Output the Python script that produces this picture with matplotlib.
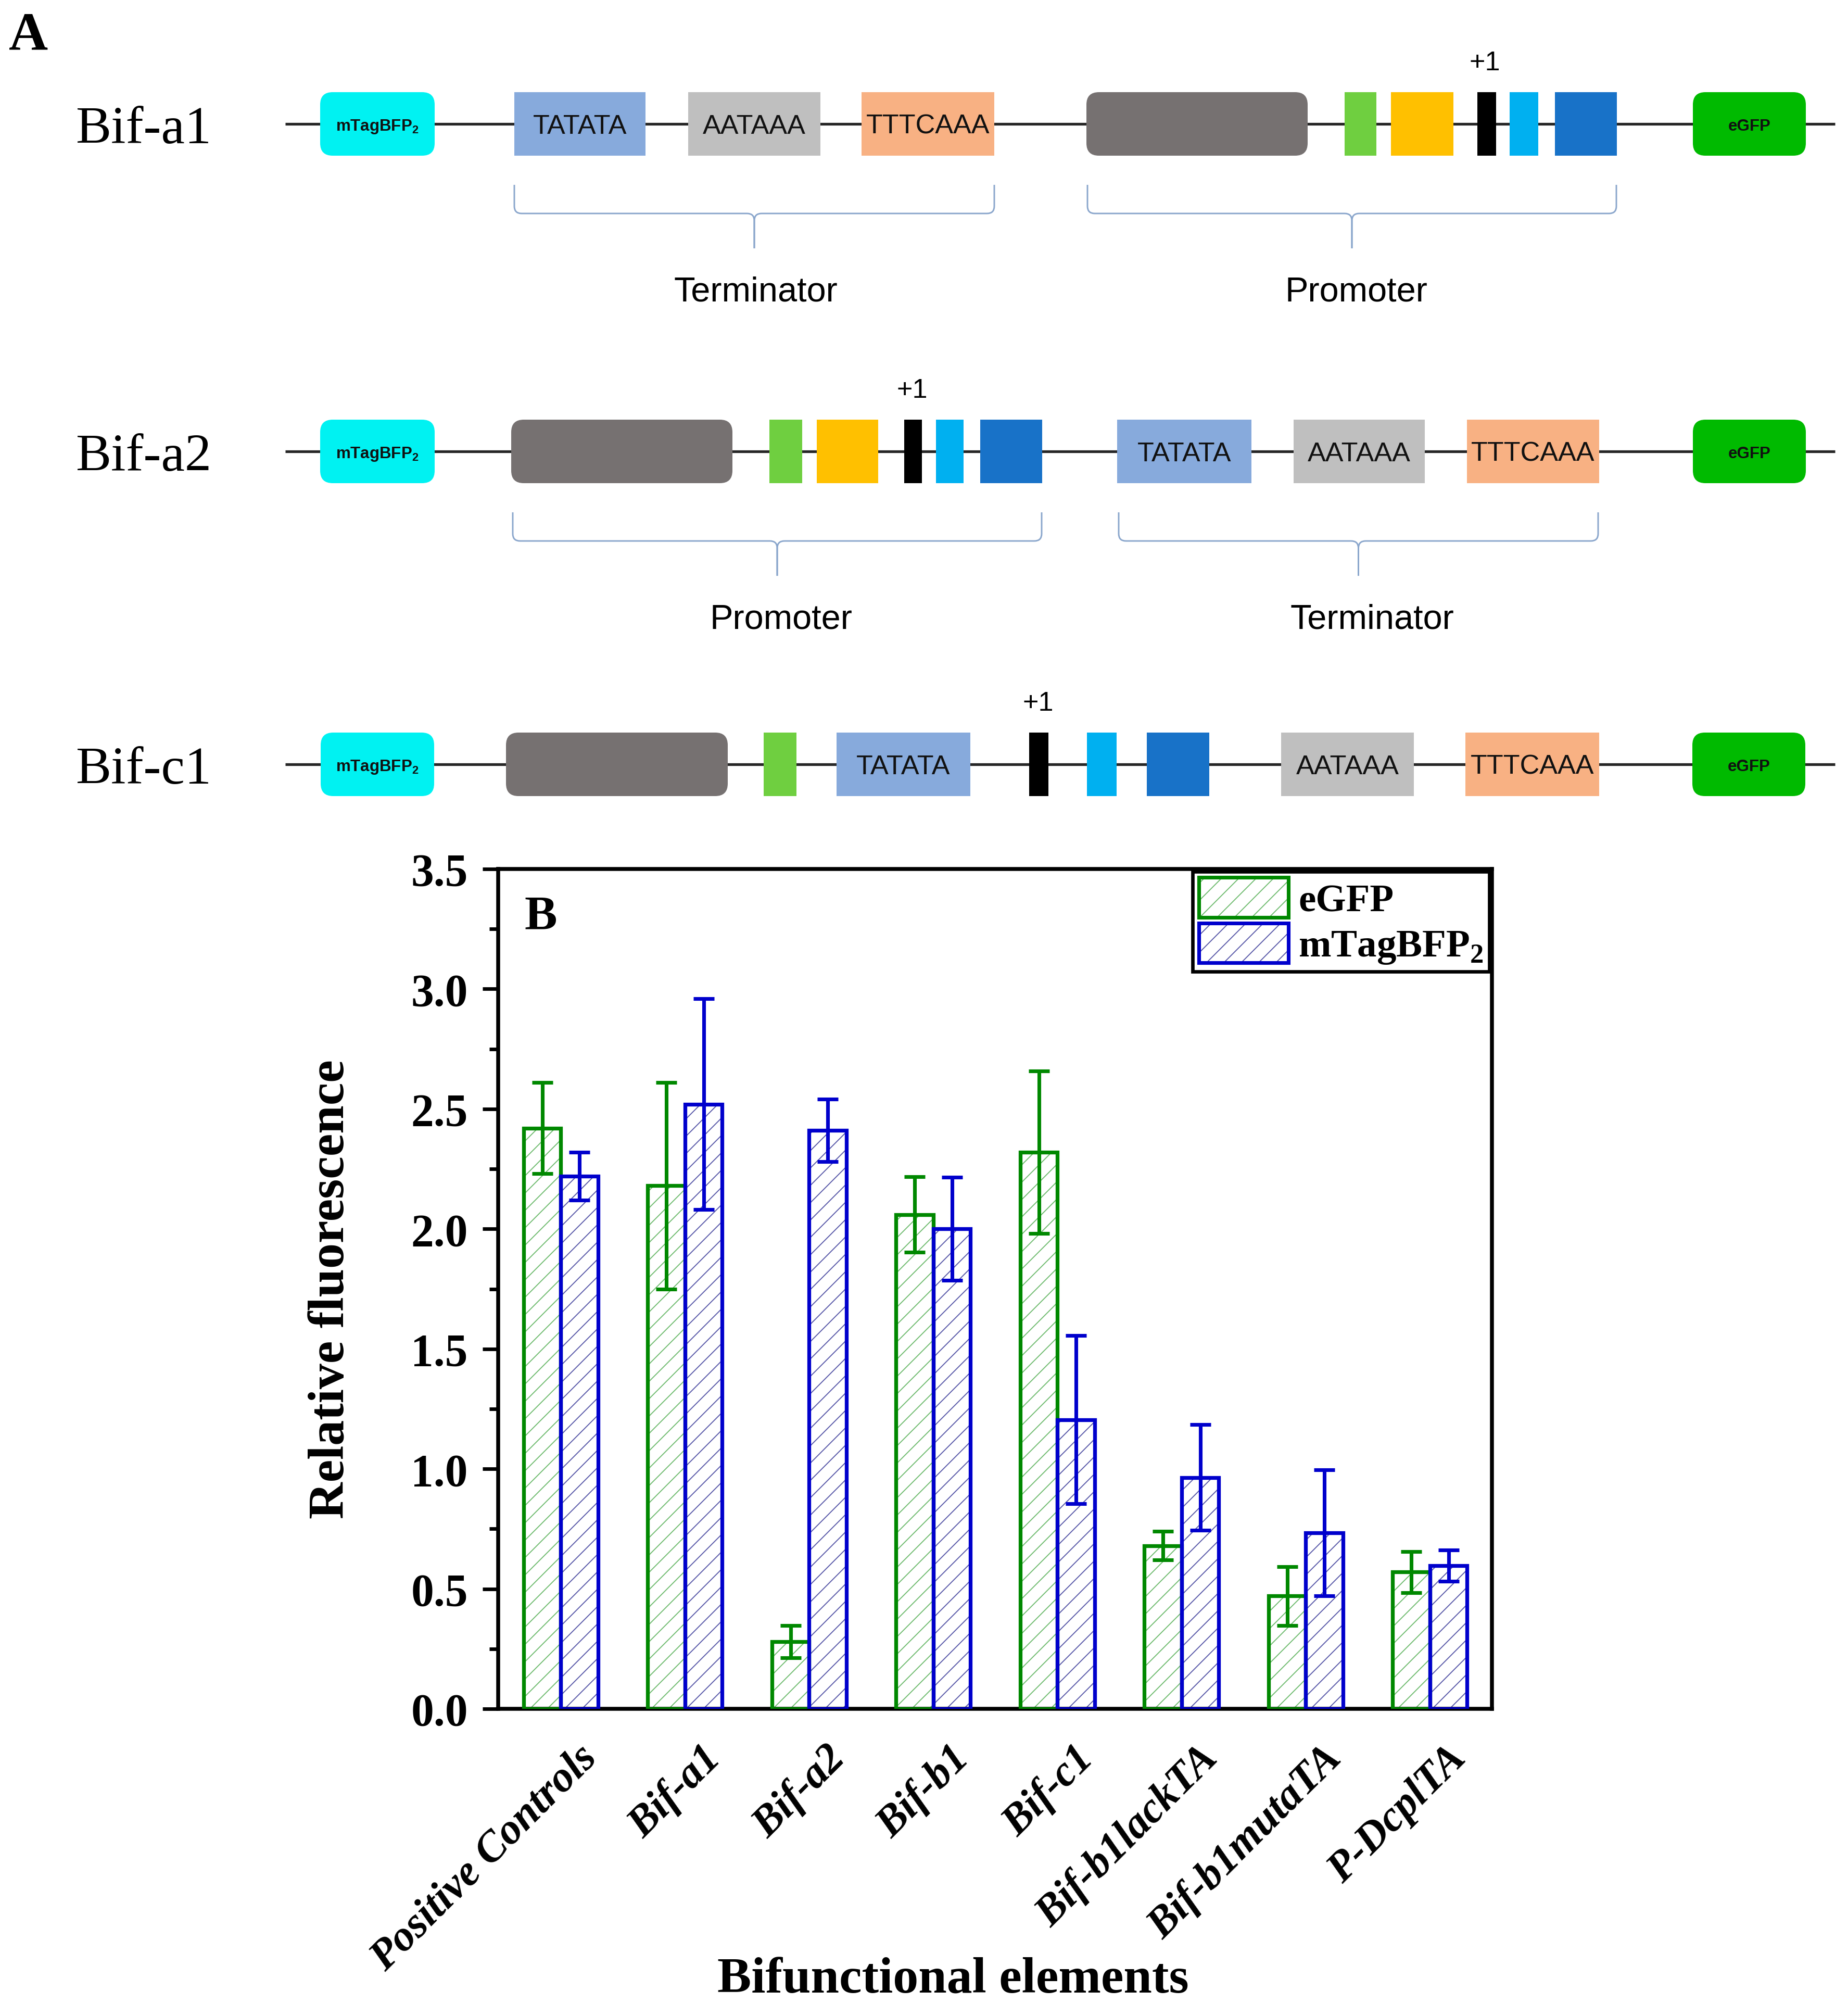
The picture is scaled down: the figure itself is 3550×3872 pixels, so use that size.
import matplotlib
matplotlib.use('Agg')
import matplotlib.pyplot as plt
import numpy as np
from matplotlib.patches import Rectangle, FancyBboxPatch, PathPatch, Patch
from matplotlib.path import Path
from matplotlib.legend_handler import HandlerTuple
from matplotlib.ticker import MultipleLocator

W, H, DPI = 3550, 3873, 200
K = 150 / DPI  # sizes below were tuned in points at 150 dpi

plt.rcParams['mathtext.fontset'] = 'custom'
plt.rcParams['mathtext.rm'] = 'Liberation Serif:bold'
plt.rcParams['mathtext.bf'] = 'Liberation Serif:bold'
plt.rcParams['mathtext.sf'] = 'Liberation Sans:bold'
plt.rcParams['hatch.linewidth'] = 0.9 * K

# ---------------- data (panel B) ----------------
categories = ['Positive Controls', 'Bif-a1', 'Bif-a2', 'Bif-b1', 'Bif-c1',
              'Bif-b1lackTA', 'Bif-b1mutaTA', 'P-DcplTA']
egfp = [2.42, 2.18, 0.28, 2.06, 2.32, 0.68, 0.47, 0.57]
egfp_err = [0.19, 0.43, 0.068, 0.157, 0.338, 0.06, 0.123, 0.086]
bfp = [2.22, 2.52, 2.41, 2.00, 1.205, 0.964, 0.733, 0.597]
bfp_err = [0.10, 0.44, 0.13, 0.215, 0.35, 0.22, 0.262, 0.065]
series_names = ['eGFP', r'mTagBFP$_\mathbf{2}$']
yticks = [0.0, 0.5, 1.0, 1.5, 2.0, 2.5, 3.0, 3.5]

# ---------------- figure ----------------
fig = plt.figure(figsize=(W / DPI, H / DPI), dpi=DPI)
fig.patch.set_facecolor('white')

# ---------------- panel A (construct diagrams, pixel layout) ----------------
ax0 = fig.add_axes([0, 0, 1, 1])
ax0.set_xlim(0, W)
ax0.set_ylim(H, 0)
ax0.axis('off')

C_CYAN, C_TATA, C_AAT, C_TTT = '#00F2F2', '#87AADC', '#BFBFBF', '#F8B183'
C_GRAY, C_GRN, C_YEL, C_BLK, C_LB, C_BL, C_EGFP = ('#767171', '#6FCF40', '#FFC000',
                                                  '#000000', '#00B0F0', '#1872C8', '#00BA00')
MTAG = r'mTagBFP$_\mathsf{2}$'

row_names = ['Bif-a1', 'Bif-a2', 'Bif-c1']
row_y = [239, 868, 1469]
row_elements = [
    [('round', 615, 835, C_CYAN, MTAG), ('rect', 988, 1240, C_TATA, 'TATATA'),
     ('rect', 1322, 1576, C_AAT, 'AATAAA'), ('rect', 1655, 1910, C_TTT, 'TTTCAAA'),
     ('round', 2087, 2512, C_GRAY, ''), ('rect', 2583, 2644, C_GRN, ''),
     ('rect', 2672, 2792, C_YEL, ''), ('rect', 2838, 2874, C_BLK, ''),
     ('rect', 2900, 2955, C_LB, ''), ('rect', 2987, 3106, C_BL, ''),
     ('round', 3252, 3469, C_EGFP, 'eGFP')],
    [('round', 615, 835, C_CYAN, MTAG), ('round', 982, 1407, C_GRAY, ''),
     ('rect', 1478, 1541, C_GRN, ''), ('rect', 1569, 1687, C_YEL, ''),
     ('rect', 1737, 1771, C_BLK, ''), ('rect', 1798, 1851, C_LB, ''),
     ('rect', 1883, 2002, C_BL, ''), ('rect', 2146, 2404, C_TATA, 'TATATA'),
     ('rect', 2485, 2737, C_AAT, 'AATAAA'), ('rect', 2818, 3072, C_TTT, 'TTTCAAA'),
     ('round', 3252, 3469, C_EGFP, 'eGFP')],
    [('round', 616, 834, C_CYAN, MTAG), ('round', 972, 1398, C_GRAY, ''),
     ('rect', 1467, 1530, C_GRN, ''), ('rect', 1607, 1864, C_TATA, 'TATATA'),
     ('rect', 1977, 2014, C_BLK, ''), ('rect', 2088, 2145, C_LB, ''),
     ('rect', 2203, 2323, C_BL, ''), ('rect', 2461, 2716, C_AAT, 'AATAAA'),
     ('rect', 2815, 3072, C_TTT, 'TTTCAAA'), ('round', 3251, 3468, C_EGFP, 'eGFP')],
]
plus1_x = [2852, 1752, 1994]
braces = [
    [(988, 1910, 1452, 'Terminator'), (2089, 3105, 2605, 'Promoter')],
    [(985, 2001, 1500, 'Promoter'), (2149, 3070, 2636, 'Terminator')],
    [],
]

BOX_H = 122
narrow = ['Liberation Sans Narrow', 'Liberation Sans']


def draw_brace(x0, x1, xm, yc):
    yt, yh, ytip, r = yc + 117, yc + 172, yc + 239, 14
    for xe, s in ((x0, 1), (x1, -1)):
        verts = [(xe, yt), (xe, yh - r), (xe, yh), (xe + s * r, yh),
                 (xm - s * r, yh), (xm, yh), (xm, yh + r), (xm, ytip)]
        codes = [Path.MOVETO, Path.LINETO, Path.CURVE3, Path.CURVE3,
                 Path.LINETO, Path.CURVE3, Path.CURVE3, Path.LINETO]
        ax0.add_patch(PathPatch(Path(verts, codes), fill=False,
                                edgecolor='#8AA6CC', lw=1.4 * K, zorder=2))


for name, yc, elems, px, brs in zip(row_names, row_y, row_elements, plus1_x, braces):
    ax0.plot([548, 3525], [yc, yc], color='#262626', lw=2.5 * K, zorder=1,
             solid_capstyle='butt')
    ax0.text(145, yc + 12, name, fontsize=49 * K, family='Liberation Serif',
             ha='left', va='center', zorder=3)
    for kind, x0, x1, col, lab in elems:
        if kind == 'round':
            p = FancyBboxPatch((x0, yc - BOX_H / 2), x1 - x0, BOX_H,
                               boxstyle='round,pad=0,rounding_size=24',
                               facecolor=col, edgecolor='none', zorder=2)
        else:
            p = Rectangle((x0, yc - BOX_H / 2), x1 - x0, BOX_H,
                          facecolor=col, edgecolor='none', zorder=2)
        ax0.add_patch(p)
        if lab:
            small = lab in (MTAG, 'eGFP')
            ax0.text((x0 + x1) / 2, yc + 4, lab, ha='center', va='center',
                     fontsize=(15 if small else 25) * K, family=narrow,
                     fontweight='bold' if small else 'normal',
                     color='#111111', zorder=3)
    ax0.text(px, yc - 118, '+1', ha='center', va='center', fontsize=25 * K,
             family=narrow, zorder=3)
    for x0, x1, lx, lab in brs:
        draw_brace(x0, x1, (x0 + x1) / 2, yc)
        ax0.text(lx, yc + 322, lab, ha='center', va='center', fontsize=32 * K,
                 family='Liberation Sans', zorder=3)

ax0.text(55, 70, 'A', fontsize=50 * K, family='Liberation Serif', fontweight='bold',
         ha='center', va='center')

# ---------------- panel B (bar chart) ----------------
L, R, T, B = 957, 2866, 1670, 3283
ax = fig.add_axes([L / W, 1 - B / H, (R - L) / W, (B - T) / H])
ax.set_facecolor('white')

x = np.arange(len(categories))
w = 0.30
GREEN, BLUE = '#008800', '#0000CC'
GREEN_H, BLUE_H = '#6FBB6F', '#5858A8'
HATCH = '//'

ax.bar(x - w / 2, egfp, w, color='white', edgecolor=GREEN_H, hatch=HATCH, lw=0, zorder=2)
ax.bar(x + w / 2, bfp, w, color='white', edgecolor=BLUE_H, hatch=HATCH, lw=0, zorder=2)
ax.bar(x - w / 2, egfp, w, fill=False, edgecolor=GREEN, lw=3.5 * K, zorder=3)
ax.bar(x + w / 2, bfp, w, fill=False, edgecolor=BLUE, lw=3.5 * K, zorder=3)
ax.errorbar(x - w / 2, egfp, yerr=egfp_err, fmt='none', ecolor=GREEN,
            elinewidth=3.4 * K, capsize=9.5 * K, capthick=3.4 * K, zorder=4)
ax.errorbar(x + w / 2, bfp, yerr=bfp_err, fmt='none', ecolor=BLUE,
            elinewidth=3.4 * K, capsize=9.5 * K, capthick=3.4 * K, zorder=4)

ax.set_xlim(-0.505, 7.5)
ax.set_ylim(0, 3.5)
ax.set_xticks([])
ax.set_yticks(yticks)
ax.set_yticklabels([f'{v:.1f}' for v in yticks])
ax.yaxis.set_minor_locator(MultipleLocator(0.25))
ax.tick_params(axis='y', which='major', direction='out', length=14.4 * K, width=3.3 * K,
               pad=13.5 * K, labelsize=42 * K)
ax.tick_params(axis='y', which='minor', direction='out', length=8 * K, width=3.3 * K)
for lab in ax.get_yticklabels():
    lab.set_family('Liberation Serif')
    lab.set_fontweight('bold')
for sp in ax.spines.values():
    sp.set_linewidth(3.6 * K)
    sp.set_color('black')

for i, cat in enumerate(categories):
    ax.text(i + 0.13, -0.035, cat, transform=ax.get_xaxis_transform(),
            rotation=45, rotation_mode='anchor', ha='right', va='top',
            fontsize=39.5 * K, family='Liberation Serif', fontweight='bold',
            style='italic')

ax.text(-0.1676, 0.50, 'Relative fluorescence', transform=ax.transAxes,
        rotation=90, ha='center', va='center', fontsize=47 * K,
        family='Liberation Serif', fontweight='bold')
fig.text(1831 / W, 1 - 3804 / H, 'Bifunctional elements', ha='center', va='center',
         fontsize=47 * K, family='Liberation Serif', fontweight='bold')
ax.text(0.043, 0.943, 'B', transform=ax.transAxes, ha='center', va='center',
        fontsize=45 * K, family='Liberation Serif', fontweight='bold')

h_g = (Patch(facecolor='white', edgecolor=GREEN_H, hatch=HATCH, lw=0),
       Patch(facecolor='none', edgecolor=GREEN, lw=3.4 * K))
h_b = (Patch(facecolor='white', edgecolor=BLUE_H, hatch=HATCH, lw=0),
       Patch(facecolor='none', edgecolor=BLUE, lw=3.4 * K))
leg = ax.legend([h_g, h_b], series_names, handler_map={tuple: HandlerTuple(ndivide=1, pad=0)},
                loc='upper right', bbox_to_anchor=(0.9974, 0.9969), borderaxespad=0,
                prop={'family': 'Liberation Serif', 'weight': 'bold', 'size': 36 * K},
                handlelength=2.3, handleheight=1.2, labelspacing=0.1,
                borderpad=0.15, handletextpad=0.25, fancybox=False, framealpha=1)
leg.get_frame().set_edgecolor('black')
leg.get_frame().set_linewidth(3.2 * K)
leg.set_zorder(5)

fig.savefig('out.png', dpi=DPI, facecolor='white')
